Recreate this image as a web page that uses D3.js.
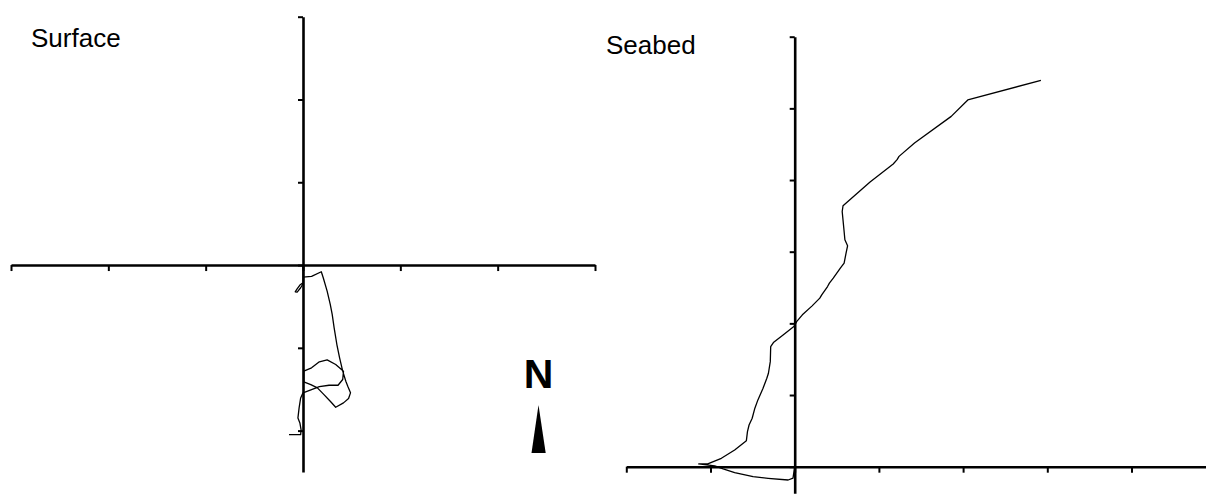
<!DOCTYPE html>
<html>
<head>
<meta charset="utf-8">
<script src="https://cdn.jsdelivr.net/npm/d3@7"></script>
<style>
    body { margin: 0; background: #fff; }
    text { font-family: "Liberation Sans", Arial, sans-serif; fill: #000; }
</style>
</head>
<body>
<script>
// track data (east / north offsets)
let surfaceEast = [0, 0, -0.032, -0.064, -0.08, -0.06, -0.024, 0, 0, 0.088, 0.188, 0.208, 0.248, 0.28, 0.30, 0.32, 0.348, 0.376, 0.408,
    0.44, 0.46, 0.488, 0.468, 0.416, 0.336, 0.28, 0.208, 0.148, 0.08, 0.008, 0.008, 0.088, 0.168, 0.248, 0.336, 0.416, 0.408, 0.36, 0.268,
    0.168, 0.088, 0, -0.024, -0.04, -0.052, -0.032, -0.02, -0.024, -0.144];
let surfaceNorth = [0, -0.214, -0.242, -0.294, -0.323, -0.327, -0.274, -0.226, -0.145, -0.137, -0.081, -0.153, -0.315, -0.476, -0.597, -0.758, -0.96, -1.121, -1.282,
    -1.403, -1.464, -1.544, -1.613, -1.665, -1.718, -1.645, -1.556, -1.484, -1.444, -1.411, -1.282, -1.242, -1.169, -1.145, -1.202, -1.282, -1.383, -1.452, -1.452,
    -1.468, -1.504, -1.544, -1.605, -1.726, -1.847, -1.907, -1.988, -2.048, -2.048];

let seabedEast = [0, -0.02, -0.078, -0.316, -0.494, -0.713, -0.85, -0.95, -1.14, -1.033, -0.871, -0.713, -0.574, -0.561, -0.542, -0.505, -0.473, -0.437, -0.376,
    -0.331, -0.312, -0.29, -0.285, -0.253, -0.138, -0.01, 0.023, 0.091, 0.207, 0.298, 0.321, 0.39, 0.412, 0.458, 0.542, 0.587, 0.61, 0.628, 0.596,
    0.583, 0.564, 0.574, 0.895, 1.17, 1.216, 1.239, 1.423, 1.859, 2.056, 2.924];
let seabedNorth = [0, -0.16, -0.186, -0.162, -0.14, -0.084, -0.032, 0.01, 0.038, 0.038, 0.117, 0.233, 0.363, 0.489, 0.582, 0.676, 0.816, 0.932, 1.095,
    1.235, 1.304, 1.466, 1.676, 1.732, 1.839, 1.955, 2.025, 2.119, 2.244, 2.352, 2.398, 2.514, 2.561, 2.631, 2.771, 2.841, 2.98, 3.082, 3.166,
    3.33, 3.561, 3.641, 3.972, 4.223, 4.284, 4.33, 4.517, 4.888, 5.117, 5.391];

let surfaceXTicks = [-3, -2, -1, 0, 1, 2, 3];
let surfaceYTicks = [-2, -1, 0, 1, 2, 3];
let seabedXTicks = [-2, -1, 0, 1, 2, 3, 4, 5];
let seabedYTicks = [0, 1, 2, 3, 4, 5, 6];

let svgWidth = 1206;
let svgHeight = 496;

let svg = d3.select("body")
    .append("svg")
    .attr("width", svgWidth)
    .attr("height", svgHeight)

let panels = [
    {
        title: "Surface", titleX: 31, titleY: 47,
        east: surfaceEast, north: surfaceNorth,
        xTicks: surfaceXTicks, yTicks: surfaceYTicks,
        x: d3.scaleLinear().domain([-3, 3]).range([11, 595]),
        y: d3.scaleLinear().domain([-2.5, 3]).range([472, 16.7])
    },
    {
        title: "Seabed", titleX: 606, titleY: 54,
        east: seabedEast, north: seabedNorth,
        xTicks: seabedXTicks, yTicks: seabedYTicks,
        x: d3.scaleLinear().domain([-2, 5]).range([626.3, 1215.7]),
        y: d3.scaleLinear().domain([-0.37, 6]).range([493.2, 36.7])
    }
];

panels.forEach(function (p) {
    let g = svg.append("g")

    //axes cross at the origin, no labels
    let xAxis = d3.axisBottom(p.x)
        .tickValues(p.xTicks)
        .tickSize(6)
        .tickSizeOuter(0)
        .tickFormat("")

    let yAxis = d3.axisLeft(p.y)
        .tickValues(p.yTicks)
        .tickSize(5)
        .tickSizeOuter(0)
        .tickFormat("")

    g.append("g")
        .attr("transform", "translate(0," + p.y(0) + ")")
        .call(xAxis)

    g.append("g")
        .attr("transform", "translate(" + p.x(0) + ",0)")
        .call(yAxis)

    g.selectAll(".domain").attr("stroke", "#000").attr("stroke-width", 2.6)
    g.selectAll(".tick line").attr("stroke", "#000").attr("stroke-width", 2)

    let line = d3.line()
        .x(function (d, i) { return p.x(p.east[i]) })
        .y(function (d, i) { return p.y(p.north[i]) })

    g.append("path")
        .datum(p.east)
        .attr("d", line)
        .attr("fill", "none")
        .attr("stroke", "#000")
        .attr("stroke-width", 1.3)
        .attr("stroke-linejoin", "round")

    g.append("text")
        .attr("x", p.titleX)
        .attr("y", p.titleY)
        .attr("font-size", 26)
        .text(p.title)
})

// north arrow
svg.append("text")
    .attr("x", 538.5)
    .attr("y", 388)
    .attr("text-anchor", "middle")
    .attr("font-size", 41)
    .attr("font-weight", "bold")
    .text("N")

svg.append("path")
    .attr("d", "M538.5,405 L545.7,453 L531.5,453 Z")
    .attr("fill", "#000")
</script>
</body>
</html>
